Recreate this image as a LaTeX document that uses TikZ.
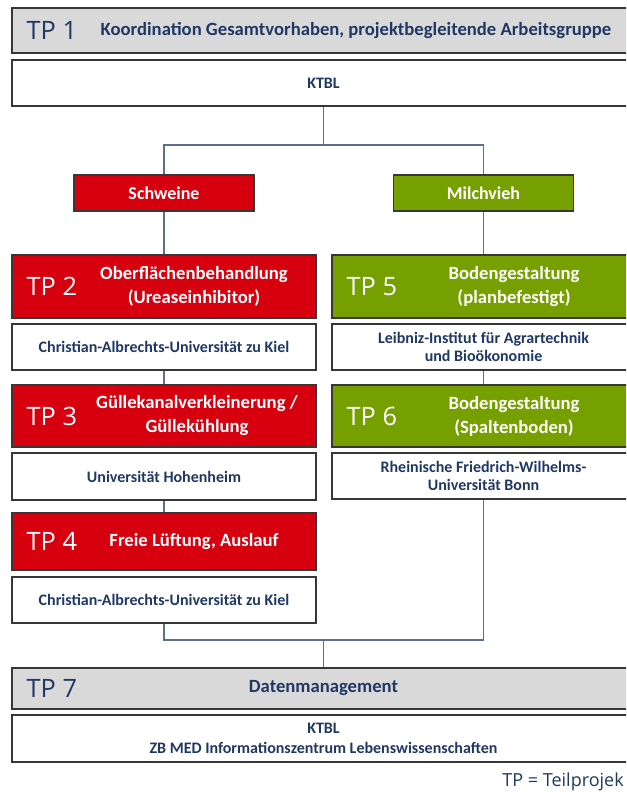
\documentclass[tikz,border=0pt]{standalone}
\usepackage{fontspec}
\setmainfont{Carlito}
\newfontfamily\tpfont{Open Sans}
\definecolor{tpred}{RGB}{215,0,15}
\definecolor{tpgreen}{RGB}{118,160,0}
\definecolor{tpgray}{RGB}{217,217,217}
\definecolor{tpnavy}{RGB}{31,56,100}
\definecolor{tpline}{RGB}{95,110,140}
\definecolor{tpedge}{RGB}{55,55,55}
\tikzset{
  size/.style 2 args={minimum width=#1*0.75pt, minimum height=#2*0.75pt},
  box/.style={draw=tpedge, line width=1.1pt, inner sep=0pt, text=tpnavy,
    font=\bfseries\fontsize{12}{14}\selectfont, align=center},
  graybox/.style={box, fill=tpgray},
  whitebox/.style={box, fill=white},
  redbox/.style={box, fill=tpred, text=white},
  greenbox/.style={box, fill=tpgreen, text=white},
  tplabel/.style={anchor=west, font=\tpfont\fontsize{19}{19}\selectfont},
  title/.style={font=\bfseries\fontsize{14}{18}\selectfont, align=center},
  conn/.style={draw=tpline, line width=0.8pt}
}
\begin{document}
\begin{tikzpicture}[x=0.75pt, y=-0.75pt]
\useasboundingbox (0,0) rectangle (626,798);
\clip (0,0) rectangle (626,798);

% Koordination
\node [graybox, size={623}{45}] (tp1) at (323.5,30.5) {};
\node [tplabel, text=tpnavy] at (22,30.5) {TP 1};
\node [title, anchor=west, text=tpnavy] at (96,30.5) {Koordination Gesamtvorhaben, projektbegleitende Arbeitsgruppe};
\node [whitebox, size={623}{46}] (ktbl) at (323.5,83) {KTBL};

% Tierarten
\node [redbox, size={180}{36}, font=\bfseries\fontsize{13.5}{16}\selectfont] (schweine) at (164,193) {Schweine};
\node [greenbox, size={180}{36}, font=\bfseries\fontsize{13.5}{16}\selectfont] (milchvieh) at (483.5,193) {Milchvieh};

% Schweine
\node [redbox, size={304}{63}] (tp2) at (164,286.5) {};
\node [tplabel, text=white] at (22,286.5) {TP 2};
\node [title, text=white] at (194,286.5) {Oberflächenbehandlung\\(Ureaseinhibitor)};
\node [whitebox, size={304}{46}] (kiel1) at (164,347) {Christian-Albrechts-Universität zu Kiel};

\node [redbox, size={304}{62}] (tp3) at (164,416) {};
\node [tplabel, text=white] at (22,416) {TP 3};
\node [title, text=white] at (197,416) {Güllekanalverkleinerung /\\Güllekühlung};
\node [whitebox, size={304}{47}] (hohenheim) at (164,476.5) {Universität Hohenheim};

\node [redbox, size={304}{57}] (tp4) at (164,541.5) {};
\node [tplabel, text=white] at (22,541.5) {TP 4};
\node [title, text=white] at (194,541.5) {Freie Lüftung, Auslauf};
\node [whitebox, size={304}{46}] (kiel2) at (164,600) {Christian-Albrechts-Universität zu Kiel};

% Milchvieh
\node [greenbox, size={303}{63}] (tp5) at (483.5,286.5) {};
\node [tplabel, text=white] at (342,286.5) {TP 5};
\node [title, text=white] at (514,286.5) {Bodengestaltung\\(planbefestigt)};
\node [whitebox, size={303}{46}] (leibniz) at (483.5,347) {Leibniz-Institut für Agrartechnik\\und Bioökonomie};

\node [greenbox, size={303}{62}] (tp6) at (483.5,416) {};
\node [tplabel, text=white] at (342,416) {TP 6};
\node [title, text=white] at (514,416) {Bodengestaltung\\(Spaltenboden)};
\node [whitebox, size={303}{46}] (bonn) at (483.5,476) {Rheinische Friedrich-Wilhelms-\\Universität Bonn};

% Daten
\node [graybox, size={623}{41}, font=\bfseries\fontsize{14}{16}\selectfont] (tp7) at (323.5,688.5) {Datenmanagement};
\node [tplabel, text=tpnavy] at (22,688.5) {TP 7};
\node [whitebox, size={623}{47}, font=\bfseries\fontsize{12}{15}\selectfont] (zbmed) at (323.5,738.5) {KTBL\\ZB MED Informationszentrum Lebenswissenschaften};

\node [anchor=east, inner sep=0pt, text=tpnavy, font=\tpfont\fontsize{13.5}{14}\selectfont] (legende) at (624,782) {TP = Teilprojek};

% Verbindungen
\coordinate (split) at (323.5,145);
\coordinate (merge) at (323.5,640);
\draw [conn] (ktbl.south) -- (split);
\draw [conn] (schweine.north) |- (split) -| (milchvieh.north);
\draw [conn] (schweine.south) -- (tp2.north);
\draw [conn] (milchvieh.south) -- (tp5.north);
\draw [conn] (kiel1.south) -- (tp3.north);
\draw [conn] (hohenheim.south) -- (tp4.north);
\draw [conn] (leibniz.south) -- (tp6.north);
\draw [conn] (kiel2.south) |- (merge) -| (bonn.south);
\draw [conn] (merge) -- (tp7.north);
\end{tikzpicture}
\end{document}
